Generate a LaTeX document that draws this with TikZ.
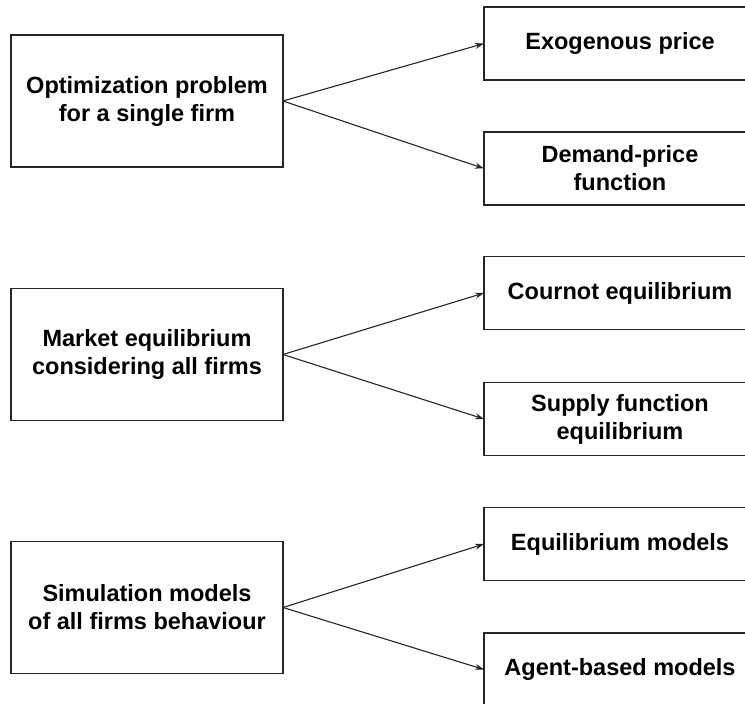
\documentclass[tikz,border=0pt]{standalone}
\usepackage{fontspec}
\setmainfont{Liberation Sans}
\usepackage{tikz}
\usetikzlibrary{arrows.meta}

\begin{document}
\begin{tikzpicture}[x=1pt, y=-1pt,
		every node/.style={font=\fontsize{23.5}{28}\selectfont\bfseries, align=center},
		approach/.style={draw=black!85, line width=1.3pt, minimum width=272pt, minimum height=132pt, inner sep=0pt, outer sep=0pt},
		variant/.style={draw=black!85, line width=1.3pt, minimum width=272pt, minimum height=73pt, inner sep=0pt, outer sep=0pt},
		branch/.style={draw=black!85, line width=1.1pt, -{Stealth[length=9pt, width=6pt]}}]
	\useasboundingbox (0,0) rectangle (745,704);
	\clip (0,0) rectangle (745,704);
	\def\xl{147}
	\def\xr{620}
	
	% linke Spalte: Modellierungsansatz
	\node[approach] (single) at (\xl,101) {Optimization problem\\for a single firm};
	\node[approach] (market) at (\xl,354.5) {Market equilibrium\\considering all firms};
	\node[approach] (simul) at (\xl,607.5) {Simulation models\\of all firms behaviour};
	
	% rechte Spalte: Varianten
	\node[variant] (exoprice) at (\xr,43.5) {Exogenous price};
	\node[variant] (demand) at (\xr,168.5) {Demand-price\\function};
	\node[variant] (cournot) at (\xr,293) {Cournot equilibrium};
	\node[variant] (supply) at (\xr,419) {Supply function\\equilibrium};
	\node[variant] (eqmodels) at (\xr,544) {Equilibrium models};
	\node[variant] (agent) at (\xr,669.5) {Agent-based models};
	
	% Pfeile
	\draw[branch] (single.east) -- (exoprice.west);
	\draw[branch] (single.east) -- (demand.west);
	\draw[branch] (market.east) -- (cournot.west);
	\draw[branch] (market.east) -- (supply.west);
	\draw[branch] (simul.east) -- (eqmodels.west);
	\draw[branch] (simul.east) -- (agent.west);
\end{tikzpicture}
\end{document}
